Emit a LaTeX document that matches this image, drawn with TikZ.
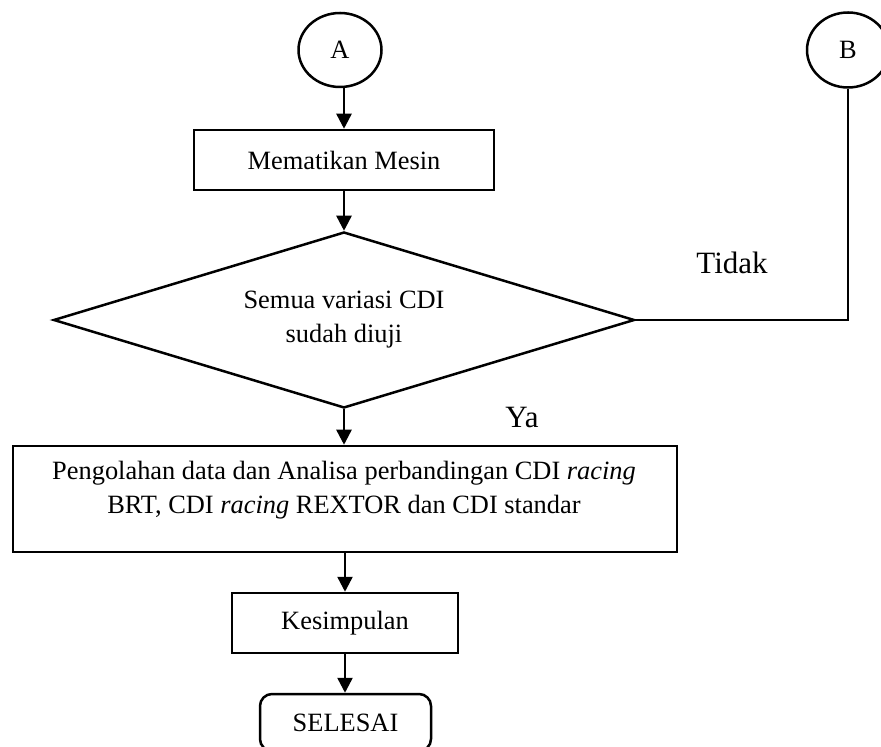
\documentclass[tikz,border=0pt]{standalone}
\usepackage{fontspec}
\setmainfont{Liberation Serif}
\usetikzlibrary{shapes.geometric,arrows.meta}
\begin{document}
\begin{tikzpicture}[x=0.5pt,y=-0.5pt,
  every node/.style={font=\fontsize{13.2}{17}\selectfont},
  conn/.style={line width=1.25pt,-{Triangle[length=7.5pt,width=7.5pt]}},
  thinline/.style={line width=0.6pt},
  boxnode/.style={draw,line width=1.25pt,rectangle,inner sep=0pt},
  term/.style={draw,line width=1.25pt,ellipse,inner sep=0pt},
  decision/.style={draw,line width=1.25pt,diamond,aspect=3.3,inner sep=0pt},
  endnode/.style={draw,line width=1.25pt,rectangle,rounded corners=6pt,inner sep=0pt},
  bigtext/.style={font=\fontsize{15.5}{18}\selectfont}
  ]
\useasboundingbox (0,0) rectangle (881,747);

\node[term,minimum width=41.5pt,minimum height=37pt] (A) at (340,50) {A};
\node[term,minimum width=41pt,minimum height=37.5pt] (B) at (848,50) {B};
\node[boxnode,minimum width=150pt,minimum height=30pt] (M) at (344,160) {Mematikan Mesin};
\node[decision,minimum width=290.5pt,minimum height=88pt,align=center] (D) at (344,320) {Semua variasi CDI\\ sudah diuji};
\node[boxnode,minimum width=332pt,minimum height=53pt] (P) at (345,499) {};
\node[align=center] (Pt) at (344,490) {Pengolahan data dan Analisa perbandingan CDI \textit{racing}\\ BRT, CDI \textit{racing} REXTOR dan CDI standar};
\node[boxnode,minimum width=113pt,minimum height=30pt] (K) at (345,623) {Kesimpulan};
\node[endnode,minimum width=85.5pt,minimum height=28.5pt] (S) at (345.5,722.5) {SELESAI};

\node[bigtext] (tidak) at (732,263) {Tidak};
\node[bigtext] (ya) at (522,418) {Ya};

\draw[conn] (A.south -| M.north) -- (M.north);
\draw[conn] (M.south) -- (M.south |- D.north);
\draw[conn] (D.south) -- (D.south |- P.north);
\draw[conn] (P.south -| K.north) -- (K.north);
\draw[conn] (K.south) -- (K.south |- S.north);
\draw[thinline] (B.south) |- (D.east);
\end{tikzpicture}
\end{document}
